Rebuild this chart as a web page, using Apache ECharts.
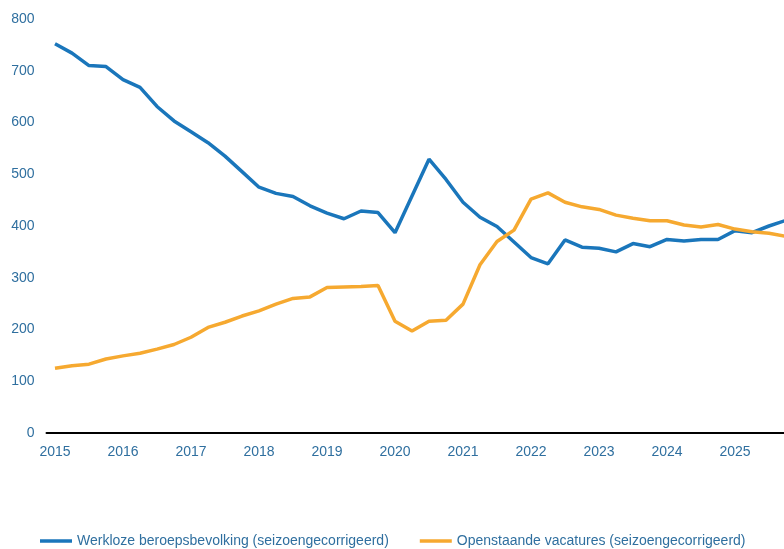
<!DOCTYPE html>
<html>
<head>
<meta charset="utf-8">
<script src="https://cdn.jsdelivr.net/npm/echarts@6/dist/echarts.min.js"></script>
<style>html,body{margin:0;padding:0;background:#fff;}#c{width:784px;height:549px;}</style>
</head>
<body>
<div id="c"></div>
<script>
const years = ['2015','2016','2017','2018','2019','2020','2021','2022','2023','2024','2025'];
const quarters = ['K1','K2','K3','K4'];
const categories = [];
years.forEach(y => quarters.forEach(q => categories.push(y + ' ' + q)));

const werkloze = [
  752, 734, 710, 708,
  683, 668, 631, 603,
  582, 561, 535, 505,
  475, 463, 457, 439,
  425, 414, 429, 426,
  387, 458, 529, 490,
  446, 417, 399, 369,
  339, 327, 373, 359,
  357, 350, 366, 360,
  374, 371, 374, 374,
  391, 387, 400, 411
];
const vacatures = [
  125, 130, 133, 143,
  149, 154, 162, 171,
  185, 204, 214, 226,
  236, 249, 260, 263,
  281, 282, 283, 285,
  216, 197, 216, 218,
  249, 325, 370, 392,
  452, 464, 446, 437,
  432, 421, 415, 410,
  410, 402, 398, 403,
  394, 389, 386, 380
];
const seriesNames = ['Werkloze beroepsbevolking (seizoengecorrigeerd)', 'Openstaande vacatures (seizoengecorrigeerd)'];

// quarter index positions; year labels at the first quarter of each year
const yearTickIdx = years.map((y, i) => i * 4);
const toPairs = arr => arr.map((v, i) => [i, v]);

const labelColor = '#2f6f9f';
const font = "'Liberation Sans', Arial, sans-serif";
const chart = echarts.init(document.getElementById('c'), null, {renderer: 'canvas'});
chart.setOption({
  animation: false,
  backgroundColor: '#ffffff',
  grid: {left: 46.5, top: 19, right: 0, height: 414, containLabel: false},
  xAxis: {
    type: 'value',
    min: -0.5,
    max: (784 - 46.5) / 17 - 0.5,
    axisLine: {show: true, onZero: false, lineStyle: {color: '#000000', width: 2}},
    axisTick: {show: false},
    splitLine: {show: false},
    axisLabel: {
      customValues: yearTickIdx,
      margin: 12,
      color: labelColor,
      fontSize: 14,
      fontFamily: font,
      formatter: v => years[Math.round(v / 4)] || ''
    }
  },
  yAxis: {
    type: 'value',
    min: 0, max: 800, interval: 100,
    axisLine: {show: false},
    axisTick: {show: false},
    splitLine: {show: false},
    axisLabel: {margin: 12, color: labelColor, fontSize: 14, fontFamily: font}
  },
  legend: {
    left: 35,
    top: 529,
    icon: 'rect',
    itemWidth: 32,
    itemHeight: 3.5,
    itemGap: 31,
    textStyle: {color: labelColor, fontSize: 14, fontFamily: font},
    data: seriesNames
  },
  series: [
    {name: seriesNames[0], type: 'line', data: toPairs(werkloze), showSymbol: false, smooth: false, clip: true,
     color: '#1a76bb', lineStyle: {width: 3.5, color: '#1a76bb'}},
    {name: seriesNames[1], type: 'line', data: toPairs(vacatures), showSymbol: false, smooth: false, clip: true,
     color: '#f6a930', lineStyle: {width: 3.5, color: '#f6a930'}}
  ]
});
</script>
</body>
</html>
